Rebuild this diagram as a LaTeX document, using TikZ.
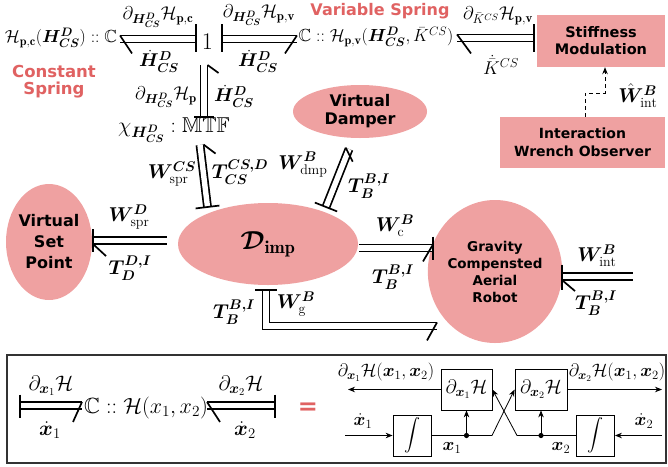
\RequirePackage{fix-cm}
\documentclass[tikz,border=0pt]{standalone}
\usepackage{amsmath,amssymb,bm}
\usepackage{fontspec}
\setsansfont{DejaVu Sans}
\usetikzlibrary{calc,arrows.meta,shapes.geometric}
\definecolor{pk}{HTML}{EFA1A1}
\definecolor{rd}{HTML}{E06262}
\newcommand{\HD}{\bm{H}^{\bm{D}}_{\bm{CS}}}
\newcommand{\dHD}{\dot{\bm{H}}^{\bm{D}}_{\bm{CS}}}
\newcommand{\TBI}{\bm{T}^{\bm{B,I}}_{\bm{B}}}
\begin{document}
\begin{tikzpicture}[x=1pt,y=-1pt,
  bnd/.style={line width=1.7pt,double,double distance=5.4pt},
  brb/.style={line width=1.7pt},
  cst/.style={line width=1.7pt},
  lbl/.style={inner sep=0pt,font=\fontsize{18.5}{21}\selectfont},
  lbw/.style={inner sep=0pt,font=\fontsize{20}{23}\selectfont},
  big/.style={inner sep=0pt,font=\fontsize{17.5}{20}\selectfont},
  bot/.style={inner sep=0pt,font=\fontsize{21}{24}\selectfont},
  blk/.style={inner sep=0pt,font=\fontsize{18}{22}\selectfont},
  pkel/.style={ellipse,fill=pk,inner sep=0pt,align=center},
  pkbox/.style={rectangle,fill=pk,inner sep=0pt,align=center},
  rdtxt/.style={text=rd,inner sep=0pt,align=center},
  sig/.style={line width=0.8pt},
  tip/.style={-{Stealth[length=7pt,width=5.5pt]}},
  sq/.style={draw,line width=0.8pt,inner sep=0pt,font=\fontsize{19.5}{22}\selectfont}]
\useasboundingbox (0,0) rectangle (668,466);

% ---------- top row ----------
\node[big] (Hpc) at (61,38) {$\mathcal{H}_{\mathbf{p,c}}(\HD) :: \mathbb{C}$};
\node[inner sep=0pt,font=\fontsize{24}{26}\selectfont] (one) at (207.5,42) {1};
\node[big] (Hpv) at (376,37) {$\mathbb{C} :: \mathcal{H}_{\mathbf{p,v}}(\HD,\bar{K}^{CS})$};
\node[rdtxt,font=\sffamily\bfseries\fontsize{16.5}{17}\selectfont] (cs) at (54,82) {Constant\\Spring};
\node[rdtxt,font=\sffamily\bfseries\fontsize{16}{17}\selectfont] (vs) at (380,11) {Variable Spring};
\node[pkbox,minimum width=128pt,minimum height=52pt,font=\sffamily\bfseries\fontsize{14.5}{17}\selectfont] (SM) at (601,41) {Stiffness\\Modulation};
\node[pkbox,minimum width=165pt,minimum height=51pt,font=\sffamily\bfseries\fontsize{14}{18}\selectfont] (IWO) at (582.5,142.5) {Interaction\\Wrench Observer};

% bond A: C(const) <- 1
\coordinate (a1) at (120,39); \coordinate (a2) at (196,39);
\draw[bnd] (a1) -- (a2);
\draw[brb] ($(a1)+(0,-3.55)$) -- ++(12,18);
\draw[cst] ($(a2)+(0,-15)$) -- ($(a2)+(0,13)$);
\node[lbl] (la1) at (158,17) {$\partial_{\HD}\mathcal{H}_{\mathbf{p,c}}$};
\node[lbl] (la2) at (159,61) {$\dHD$};

% bond B: 1 -> C(var)
\coordinate (b1) at (222,39); \coordinate (b2) at (297,39);
\draw[bnd] (b1) -- (b2);
\draw[cst] ($(b1)+(0,-15)$) -- ($(b1)+(0,13)$);
\draw[brb] ($(b2)+(0,-3.55)$) -- ++(-12,18);
\node[lbl] (lb1) at (259,15) {$\partial_{\HD}\mathcal{H}_{\mathbf{p,v}}$};
\node[lbl] (lb2) at (258,61) {$\dHD$};

% bond C: C(var) <- stiffness modulation
\coordinate (c1) at (457,38); \coordinate (c2) at (534,38);
\draw[bnd] (c1) -- (c2);
\draw[brb] ($(c1)+(0,-3.55)$) -- ++(14,19);
\draw[cst] ($(c2)+(0,-14)$) -- ($(c2)+(0,14)$);
\node[lbl] (lc1) at (498,16) {$\partial_{\bar{K}^{CS}}\mathcal{H}_{\mathbf{p,v}}$};
\node[lbl] (lc2) at (501,65) {$\dot{\bar{K}}^{CS}$};

% dashed observer signal
\coordinate (d1) at (585,93); \coordinate (d2) at (605,93);
\draw[sig,dashed,dash pattern=on 4pt off 3pt,tip] (IWO.north -| d1) -- (d1) -- (d2) -- (d2 |- SM.south);
\node[lbw] (lw) at (638,96) {$\hat{\bm{W}}^{\bm{B}}_{\mathrm{int}}$};

% bond D: 1 -> MTF (vertical)
\coordinate (v1) at (204,65); \coordinate (v2) at (204,117);
\draw[bnd] (v1) -- (v2);
\draw[brb] ($(v1)+(3.55,0)$) -- ++(11,8);
\draw[cst] ($(v2)+(-10,0)$) -- ($(v2)+(10,0)$);
\node[lbl] (ld1) at (166,97) {$\partial_{\HD}\mathcal{H}_{\mathbf{p}}$};
\node[lbl] (ld2) at (234,96) {$\dHD$};

\node[inner sep=0pt,font=\fontsize{21.5}{24}\selectfont] (MTF) at (174,130) {$\chi_{\HD}:\mathbb{MTF}$};

% ---------- ellipses ----------
\node[pkel,minimum width=180pt,minimum height=82pt,font=\fontsize{26}{30}\selectfont] (Dimp) at (268,244) {$\bm{\mathcal{D}}_{\mathbf{imp}}$};
\node[pkel,minimum width=82pt,minimum height=116pt,font=\sffamily\bfseries\fontsize{16}{21}\selectfont] (VSP) at (49,242) {Virtual\\Set\\Point};
\node[pkel,minimum width=134pt,minimum height=53pt,font=\sffamily\bfseries\fontsize{16}{18}\selectfont] (VD) at (360,111.5) {Virtual\\Damper};
\node[pkel,minimum width=116pt,minimum height=143pt,font=\sffamily\bfseries\fontsize{13.5}{17}\selectfont] (GR) at (495,271.5) {Gravity\\Compensted\\Aerial\\Robot};

% bond E: MTF -> Dimp
\coordinate (e1) at (200,145); \coordinate (e2) at (207.5,207);
\draw[bnd] (e1) -- (e2);
\draw[brb] ($(e1)!3.55pt!90:(e2)$) -- ++(12,9);
\draw[cst] ($(e2)!12pt!90:(e1)$) -- ($(e2)!12pt!-90:(e1)$);
\node[lbw] (le1) at (172,174) {$\bm{W}^{\bm{CS}}_{\mathrm{spr}}$};
\node[lbw] (le2) at (240,172) {$\bm{T}^{\bm{CS,D}}_{\bm{CS}}$};

% bond F: Dimp -> damper
\coordinate (f1) at (349,149); \coordinate (f2) at (326,207);
\draw[bnd] (f1) -- (f2);
\draw[brb] ($(f1)!3.55pt!-90:(f2)$) -- ++(7,14);
\draw[cst] ($(f2)!12pt!90:(f1)$) -- ($(f2)!12pt!-90:(f1)$);
\node[lbw] (lf1) at (303,165) {$\bm{W}^{\bm{B}}_{\mathrm{dmp}}$};
\node[lbw] (lf2) at (369,186) {$\TBI$};

% bond G: Dimp -> virtual set point
\coordinate (g1) at (93,240.5); \coordinate (g2) at (167,240.5);
\draw[bnd] (g1) -- (g2);
\draw[cst] ($(g1)+(0,-11.5)$) -- ($(g1)+(0,11.5)$);
\draw[brb] ($(g1)+(0,3.55)$) -- ++(13,12);
\node[lbw] (lg1) at (129,217) {$\bm{W}^{\bm{D}}_{\mathrm{spr}}$};
\node[lbw] (lg2) at (130,268) {$\bm{T}^{\bm{D,I}}_{\bm{D}}$};

% bond H: Dimp -> robot
\coordinate (h1) at (359,248); \coordinate (h2) at (433,248);
\draw[bnd] (h1) -- (h2);
\draw[cst] ($(h2)+(0,-11.5)$) -- ($(h2)+(0,11.5)$);
\draw[brb] ($(h2)+(0,-3.55)$) -- ++(-10,17);
\node[lbw] (lh1) at (395,226) {$\bm{W}^{\bm{B}}_{\mathrm{c}}$};
\node[lbw] (lh2) at (393,277) {$\TBI$};

% bond I: interaction wrench -> robot
\coordinate (i1) at (562,276.5); \coordinate (i2) at (633,276.5);
\draw[bnd] (i1) -- (i2);
\draw[cst] ($(i1)+(0,-12)$) -- ($(i1)+(0,13)$);
\draw[brb] ($(i1)+(0,3.55)$) -- ++(13,11);
\node[lbw] (li1) at (597,256) {$\bm{W}^{\bm{B}}_{\mathrm{int}}$};
\node[lbw] (li2) at (596,303) {$\TBI$};

% bond J: gravity (L shape)
\coordinate (j1) at (266,290); \coordinate (j2) at (266,326); \coordinate (j3) at (437,326);
\draw[bnd,line join=miter] (j1) -- (j2) -- (j3);
\draw[cst] ($(j1)+(-11,0)$) -- ($(j1)+(11,0)$);
\draw[brb] ($(j3)+(0,-3.55)$) -- ++(-10,18);
\node[lbw] (lj1) at (234,312) {$\TBI$};
\node[lbw] (lj2) at (296,304) {$\bm{W}^{\bm{B}}_{\mathrm{g}}$};

% ---------- bottom legend ----------
\draw[draw=black!80,line width=1.4pt] (7,355) rectangle (666,463);

\coordinate (ka) at (20,405.5); \coordinate (kb) at (82,405.5);
\draw[bnd] (ka) -- (kb);
\draw[cst] ($(ka)+(0,-11)$) -- ($(ka)+(0,12)$);
\draw[brb] ($(kb)+(0,-3.55)$) -- ++(-9,20);
\node[bot] (lk1) at (51,386) {$\partial_{\bm{x}_1}\mathcal{H}$};
\node[bot] (lk2) at (50,430) {$\dot{\bm{x}}_1$};

\node[inner sep=0pt,font=\fontsize{22}{24}\selectfont] (Cx) at (146,408) {$\mathbb{C} :: \mathcal{H}(x_1,x_2)$};

\coordinate (la) at (207,405.5); \coordinate (lb) at (275,405.5);
\draw[bnd] (la) -- (lb);
\draw[cst] ($(lb)+(0,-11)$) -- ($(lb)+(0,12)$);
\draw[brb] ($(la)+(0,-3.55)$) -- ++(13,20);
\node[bot] (ll1) at (241,386) {$\partial_{\bm{x}_2}\mathcal{H}$};
\node[bot] (ll2) at (245,430) {$\dot{\bm{x}}_2$};

\node[text=rd,inner sep=0pt,font=\sffamily\bfseries\fontsize{24}{24}\selectfont] (eq) at (308,409) {=};

% block diagram
\node[sq,minimum width=51pt,minimum height=41pt] (P1) at (466.5,389.5) {$\partial_{\bm{x}_1}\mathcal{H}$};
\node[sq,minimum width=52pt,minimum height=41pt] (P2) at (541,389.5) {$\partial_{\bm{x}_2}\mathcal{H}$};
\node[sq,minimum width=38pt,minimum height=41pt,font=\fontsize{16}{18}\selectfont] (I1) at (412,435.5) {$\displaystyle\int$};
\node[sq,minimum width=38pt,minimum height=41pt,font=\fontsize{16}{18}\selectfont] (I2) at (595.5,435.5) {$\displaystyle\int$};
\coordinate (in1) at (345,435.5); \coordinate (in2) at (662,435.5);
\coordinate (k1) at (492,435.5); \coordinate (k2) at (517,435.5);
\coordinate (x1d) at (P1.south |- I1.east); \coordinate (x2d) at (P2.south |- I2.west);
\coordinate (o1) at (348,389.5); \coordinate (o2) at (662,389.5);
\draw[sig,tip] (in1) -- (I1.west);
\draw[sig,tip] (in2) -- (I2.east);
\draw[sig,tip] (I1.east) -- (k1) -- (P2.west);
\draw[sig,tip] (I2.west) -- (k2) -- (P1.east);
\fill (x1d) circle (2.6pt); \fill (x2d) circle (2.6pt);
\draw[sig,tip] (x1d) -- (P1.south);
\draw[sig,tip] (x2d) -- (P2.south);
\draw[sig,tip] (P1.west) -- (o1);
\draw[sig,tip] (P2.east) -- (o2);
\node[blk] (lo1) at (386,372) {$\partial_{\bm{x}_1}\mathcal{H}(\bm{x}_1,\bm{x}_2)$};
\node[blk] (lo2) at (617,372) {$\partial_{\bm{x}_2}\mathcal{H}(\bm{x}_1,\bm{x}_2)$};
\node[blk] (lin1) at (363,421) {$\dot{\bm{x}}_1$};
\node[blk] (lin2) at (644,421) {$\dot{\bm{x}}_2$};
\node[blk] (lx1) at (452,448) {$\bm{x}_1$};
\node[blk] (lx2) at (561,448) {$\bm{x}_2$};
\end{tikzpicture}
\end{document}
